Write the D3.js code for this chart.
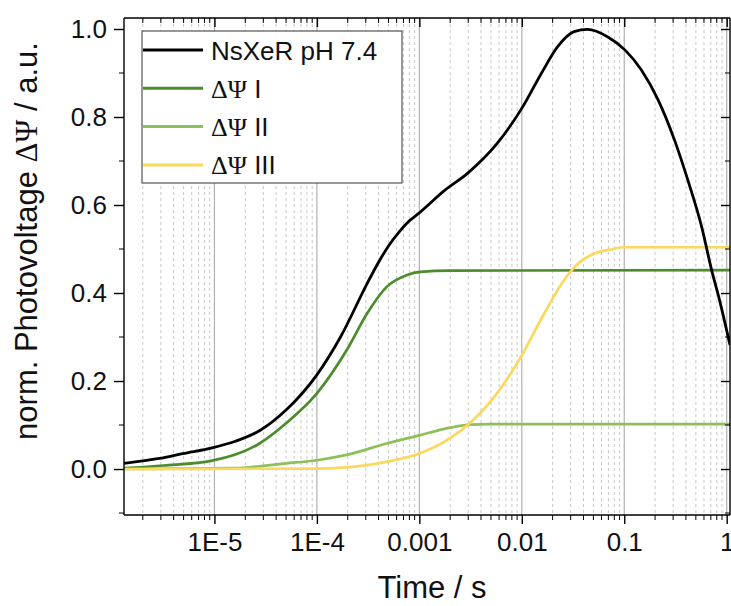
<!DOCTYPE html>
<html>
<head>
<meta charset="utf-8">
<script src="https://cdn.jsdelivr.net/npm/d3@7"></script>
<style>
  body { margin: 0; background: #fff; }
  svg text { font-family: "Liberation Sans", Arial, sans-serif; fill: #111; }
  .greek { font-family: "Liberation Serif", "Times New Roman", serif; }
</style>
</head>
<body>
<div id="vis"></div>
<script>
// series data, time in seconds, photovoltage normalised
var nsxerTime  = [1.31e-6, 2.9e-6, 4.9e-6, 9.5e-6, 1.6e-5, 2.75e-5, 5e-5, 1e-4, 1.7e-4, 3.1e-4, 4e-4, 5e-4, 6.3e-4,
                  7.9e-4, 1e-3, 1.74e-3, 2.95e-3, 5.75e-3, 0.0102, 0.0155, 0.0224, 0.0324, 0.0437, 0.0692, 0.102,
                  0.147, 0.214, 0.309, 0.417, 0.569, 0.713, 0.851, 1.077];
var nsxerValue = [0.013, 0.024, 0.035, 0.048, 0.063, 0.087, 0.134, 0.214, 0.30, 0.422, 0.47, 0.507, 0.538,
                  0.563, 0.582, 0.632, 0.672, 0.74, 0.823, 0.899, 0.96, 0.994, 0.999, 0.982, 0.952,
                  0.907, 0.839, 0.748, 0.657, 0.551, 0.452, 0.384, 0.282];

var psi1Time  = [1.31e-6, 3.2e-6, 9.5e-6, 2.75e-5, 5e-5, 1e-4, 1.95e-4, 3.1e-4, 4.8e-4, 7.6e-4, 1.02e-3, 2e-3, 1.077];
var psi1Value = [0.002, 0.008, 0.019, 0.058, 0.104, 0.172, 0.27, 0.354, 0.414, 0.441, 0.448, 0.451, 0.452];

var psi2Time  = [1.31e-6, 1.5e-5, 5e-5, 1e-4, 1.95e-4, 4.8e-4, 1.02e-3, 2e-3, 3.2e-3, 5e-3, 1.077];
var psi2Value = [0.0, 0.002, 0.013, 0.02, 0.032, 0.058, 0.077, 0.094, 0.101, 0.102, 0.102];

var psi3Time  = [1.31e-6, 1e-4, 3.1e-4, 6.5e-4, 1.02e-3, 2e-3, 3.2e-3, 5.4e-3, 9.8e-3, 0.0166, 0.026,
                 0.0355, 0.0513, 0.0741, 0.1, 1.077];
var psi3Value = [0.0, 0.001, 0.009, 0.023, 0.036, 0.07, 0.107, 0.164, 0.255, 0.354, 0.43,
                 0.467, 0.49, 0.499, 0.504, 0.504];

var seriesNames  = ["NsXeR pH 7.4", "I", "II", "III"];
var seriesColors = ["#000000", "#4c8c2c", "#8ec05a", "#fcd85c"];

var xTickValues = [1e-5, 1e-4, 1e-3, 1e-2, 1e-1, 1];
var xTickLabels = ["1E-5", "1E-4", "0.001", "0.01", "0.1", "1"];
var yTickValues = [0, 0.2, 0.4, 0.6, 0.8, 1.0];
var yMinorValues = [-0.1, 0.1, 0.3, 0.5, 0.7, 0.9];

var width = 731, height = 606;
var mLeft = 124, mRight = 730, mTop = 18, mBottom = 515;

var svg = d3.select("#vis").append("svg")
    .attr("width", width)
    .attr("height", height);

var x = d3.scaleLog().domain([1.31e-6, 1.077]).range([mLeft, mRight]);
var y = d3.scaleLinear().domain([-0.1045, 1.025]).range([mBottom, mTop]);

// minor positions 2..9 of each decade
var xMinor = [];
[-6, -5, -4, -3, -2, -1, 0].forEach(function (e) {
  for (var k = 2; k <= 9; k++) {
    var v = k * Math.pow(10, e);
    if (v > x.domain()[0] && v < x.domain()[1]) xMinor.push(v);
  }
});

svg.append("defs").append("clipPath").attr("id", "clip")
  .append("rect").attr("x", mLeft).attr("y", mTop)
  .attr("width", mRight - mLeft).attr("height", mBottom - mTop);

// grid
svg.append("g").selectAll("line").data(xMinor).enter().append("line")
    .attr("x1", function (d) { return x(d); }).attr("x2", function (d) { return x(d); })
    .attr("y1", mTop).attr("y2", mBottom)
    .attr("stroke", "#c8c8c8").attr("stroke-width", 1).attr("stroke-dasharray", "3,3");
svg.append("g").selectAll("line").data(xTickValues).enter().append("line")
    .attr("x1", function (d) { return x(d); }).attr("x2", function (d) { return x(d); })
    .attr("y1", mTop).attr("y2", mBottom)
    .attr("stroke", "#b0b0b0").attr("stroke-width", 1.2);

// curves
var series = [
  { t: nsxerTime, v: nsxerValue },
  { t: psi1Time, v: psi1Value },
  { t: psi2Time, v: psi2Value },
  { t: psi3Time, v: psi3Value }
];
var line = d3.line()
    .x(function (d) { return x(d[0]); })
    .y(function (d) { return y(d[1]); })
    .curve(d3.curveMonotoneX);

var plot = svg.append("g").attr("clip-path", "url(#clip)");
[1, 2, 3, 0].forEach(function (i) {
  var pts = series[i].t.map(function (t, j) { return [t, series[i].v[j]]; });
  plot.append("path")
      .attr("d", line(pts))
      .attr("fill", "none")
      .attr("stroke", seriesColors[i])
      .attr("stroke-width", i === 0 ? 2.8 : 2.7);
});

// axes
var bottomAxis = svg.append("g").attr("transform", "translate(0," + mBottom + ")")
    .call(d3.axisBottom(x).tickValues(xTickValues).tickSize(9).tickFormat(function (d, i) { return xTickLabels[i]; }));
bottomAxis.append("g").selectAll("line").data(xMinor).enter().append("line")
    .attr("x1", function (d) { return x(d); }).attr("x2", function (d) { return x(d); })
    .attr("y1", 0).attr("y2", 5).attr("stroke", "#000");

var topAxis = svg.append("g").attr("transform", "translate(0," + mTop + ")")
    .call(d3.axisBottom(x).tickValues(xTickValues).tickSize(9).tickFormat(""));
topAxis.append("g").selectAll("line").data(xMinor).enter().append("line")
    .attr("x1", function (d) { return x(d); }).attr("x2", function (d) { return x(d); })
    .attr("y1", 0).attr("y2", 5).attr("stroke", "#000");

var leftAxis = svg.append("g").attr("transform", "translate(" + mLeft + ",0)")
    .call(d3.axisLeft(y).tickValues(yTickValues).tickSize(10).tickFormat(d3.format(".1f")));
leftAxis.append("g").selectAll("line").data(yMinorValues).enter().append("line")
    .attr("y1", function (d) { return y(d); }).attr("y2", function (d) { return y(d); })
    .attr("x1", 0).attr("x2", -5).attr("stroke", "#000");

var rightAxis = svg.append("g").attr("transform", "translate(" + mRight + ",0)")
    .call(d3.axisLeft(y).tickValues(yTickValues).tickSize(9).tickFormat(""));
rightAxis.append("g").selectAll("line").data(yMinorValues).enter().append("line")
    .attr("y1", function (d) { return y(d); }).attr("y2", function (d) { return y(d); })
    .attr("x1", 0).attr("x2", -5).attr("stroke", "#000");

[bottomAxis, topAxis, leftAxis, rightAxis].forEach(function (a) {
  a.select(".domain").attr("stroke", "#000").attr("stroke-width", 1.4);
  a.selectAll(".tick line").attr("stroke", "#000").attr("stroke-width", 1.4);
});
bottomAxis.selectAll(".tick text").attr("font-size", 26).attr("y", 18).attr("dy", "0.71em")
    .attr("font-family", "Liberation Sans, Arial, sans-serif").attr("fill", "#111");
leftAxis.selectAll(".tick text").attr("font-size", 26).attr("x", -17)
    .attr("font-family", "Liberation Sans, Arial, sans-serif").attr("fill", "#111");
// plain frame lines instead of the outer ticks of the D3 domain path
[bottomAxis, topAxis].forEach(function (a) {
  a.select(".domain").attr("d", "M" + mLeft + ",0H" + mRight);
});
[leftAxis, rightAxis].forEach(function (a) {
  a.select(".domain").attr("d", "M0," + mTop + "V" + mBottom);
});

// axis titles
svg.append("text")
    .attr("x", (mLeft + mRight) / 2 + 5).attr("y", 598)
    .attr("text-anchor", "middle").attr("font-size", 31)
    .text("Time / s");

var yt = svg.append("text")
    .attr("transform", "translate(37,241) rotate(-90)")
    .attr("text-anchor", "middle").attr("font-size", 31);
yt.append("tspan").text("norm. Photovoltage ");
yt.append("tspan").attr("class", "greek").text("\u0394\u03A8");
yt.append("tspan").text(" / a.u.");

// legend
var legend = svg.append("g");
legend.append("rect")
    .attr("x", 142).attr("y", 31).attr("width", 260).attr("height", 152)
    .attr("fill", "#fff").attr("stroke", "#333").attr("stroke-width", 1);
seriesNames.forEach(function (name, i) {
  var ly = 50 + i * 38.3;
  legend.append("line")
      .attr("x1", 143).attr("x2", 203).attr("y1", ly).attr("y2", ly)
      .attr("stroke", seriesColors[i]).attr("stroke-width", 3);
  var t = legend.append("text").attr("x", 211).attr("y", ly + 9.5).attr("font-size", 26);
  if (i === 0) {
    t.text(name);
  } else {
    t.append("tspan").attr("class", "greek").text("\u0394\u03A8");
    t.append("tspan").text(" " + name);
  }
});
</script>
</body>
</html>
